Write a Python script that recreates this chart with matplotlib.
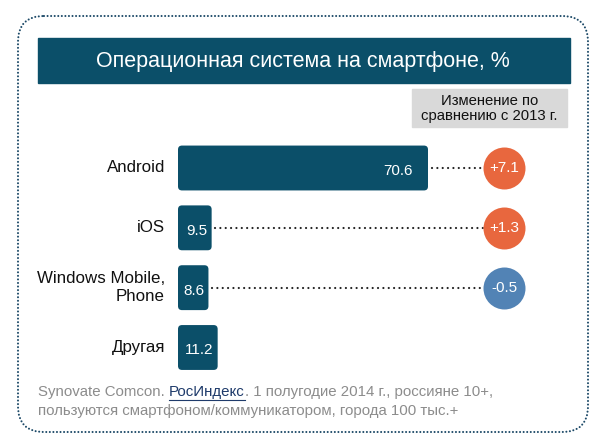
import matplotlib
matplotlib.use("Agg")
import matplotlib.pyplot as plt
from matplotlib.patches import FancyBboxPatch, Rectangle

plt.rcParams['font.family'] = ['Liberation Sans', 'DejaVu Sans']

# ---- data ----
categories = ["Android", "iOS", "Windows Mobile,\nPhone", "Другая"]
shares = [70.6, 9.5, 8.6, 11.2]
change_labels = ["+7.1", "+1.3", "-0.5"]
changes = [7.1, 1.3, -0.5]
title = "Операционная система на смартфоне, %"
change_header = "Изменение по\nсравнению с 2013 г."
source_pre = "Synovate Comcon. "
source_link = "РосИндекс"
source_post = ". 1 полугодие 2014 г., россияне 10+,"
source_line2 = "пользуются смартфоном/коммуникатором, города 100 тыс.+"

BAR = "#0b4f69"
ORANGE = "#e8673e"
BLUE = "#5283b5"
W, H = 600, 446

fig = plt.figure(figsize=(W / 100, H / 100), dpi=100)

# background axes in pixel coordinates
bg = fig.add_axes([0, 0, 1, 1])
bg.set_xlim(0, W)
bg.set_ylim(H, 0)
bg.axis("off")

border = FancyBboxPatch((18, 16), 570, 416,
                        boxstyle="round,pad=0,rounding_size=26",
                        fill=False, edgecolor="#1d4a68", linewidth=1.5,
                        linestyle=(0, (0.01, 1.7)), capstyle="round")
bg.add_patch(border)

bg.add_patch(Rectangle((38, 38), 532, 45, color=BAR))
bg.text(303, 61, title, color="white", fontsize=15.5, ha="center", va="center")

bg.add_patch(Rectangle((412, 89), 155, 38, color="#d9d9d9"))
bg.text(489.5, 108.5, change_header, color="#111111", fontsize=10.7,
        ha="center", va="center", linespacing=1.1)

fs_src = 10.8
t1 = bg.text(38, 392, source_pre, color="#8c8c8c", fontsize=fs_src, ha="left", va="center")
fig.canvas.draw()
r = fig.canvas.get_renderer()
bb = t1.get_window_extent(r).transformed(bg.transData.inverted())
t2 = bg.text(bb.x1, 392, source_link, color="#1f3b6b", fontsize=fs_src, ha="left", va="center")
bb2 = t2.get_window_extent(r).transformed(bg.transData.inverted())
bg.plot([bb2.x0, bb2.x1], [400, 400], color="#1f3b6b", lw=0.8)
bg.text(bb2.x1, 392, source_post, color="#8c8c8c", fontsize=fs_src, ha="left", va="center")
bg.text(38, 411, source_line2, color="#8c8c8c", fontsize=fs_src, ha="left", va="center")

# bar axes
px_per_unit = 250 / 70.6
ax_left, ax_width = 178, 100 * px_per_unit
y0, y3 = 168, 347.5
ppu_y = (y3 - y0) / 3
ax_top = y0 - 0.5 * ppu_y
ax_bot = y3 + 0.5 * ppu_y
ax = fig.add_axes([ax_left / W, (H - ax_bot) / H, ax_width / W, (ax_bot - ax_top) / H])
ax.set_xlim(0, 100)
ax.set_ylim(3.5, -0.5)
ax.axis("off")

bar_h = 0.75
r_x = 4 / px_per_unit
aspect = (4 / ppu_y) / r_x
for i, v in enumerate(shares):
    ax.add_patch(FancyBboxPatch((0, i - bar_h / 2), v, bar_h,
                                boxstyle=f"round,pad=0,rounding_size={r_x}",
                                mutation_aspect=aspect, color=BAR, linewidth=0))
    off = -11 if v > 50 else -3
    ax.annotate(f"{v}", (v, i + 0.05), xytext=(off, 0), textcoords="offset points",
                ha="right", va="center", color="white", fontsize=11)
    ax.text(-13 / px_per_unit, i, categories[i], ha="right", va="center",
            fontsize=12.2, color="#111111", linespacing=1.2)

circle_x = (504 - ax_left) / px_per_unit
for i, (c, lab) in enumerate(zip(changes, change_labels)):
    ax.plot([shares[i] + 1, circle_x], [i, i], color="#222222", lw=1.6,
            linestyle=(0, (0.01, 2.4)), dash_capstyle="round", zorder=1)
    ax.scatter([circle_x], [i], s=(42 * 0.72) ** 2, color=ORANGE if c > 0 else BLUE,
               zorder=3, linewidths=0)
    ax.text(circle_x, i, lab, ha="center", va="center", color="white",
            fontsize=11, zorder=4)

fig.savefig("out.png", dpi=100)
